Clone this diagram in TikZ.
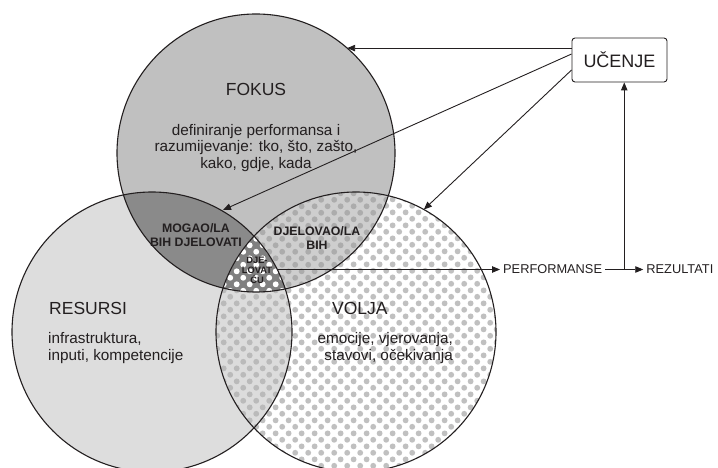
\documentclass[tikz,border=0pt]{standalone}
\usepackage{fontspec}
\setmainfont{Liberation Sans}
\usetikzlibrary{arrows.meta,positioning,patterns.meta}
\definecolor{linija}{RGB}{35,31,32}
\definecolor{sivaResursi}{RGB}{221,221,221}
\definecolor{sivaFokus}{RGB}{192,192,192}
\definecolor{sivaMogao}{RGB}{138,138,138}
\definecolor{sivaTrostruka}{RGB}{128,128,128}
\definecolor{tockaVolja}{RGB}{192,192,192}
\definecolor{sivaFokusVolja}{RGB}{206,206,206}
\definecolor{tockaFokusVolja}{RGB}{172,172,172}
\definecolor{sivaResursiVolja}{RGB}{220,220,220}
\definecolor{tockaResursiVolja}{RGB}{186,186,186}

% rastar tockica za krug VOLJA
\tikzdeclarepattern{
  name=rastar,
  type=uncolored,
  bottom left={(0pt,0pt)},
  top right={(13.4pt,13.4pt)},
  tile size={(13.4pt,13.4pt)},
  code={
    \fill (3.35pt,3.35pt) circle[radius=3.05pt];
    \fill (10.05pt,10.05pt) circle[radius=3.05pt];
  }
}

\begin{document}
\begin{tikzpicture}[
  x=1pt, y=-1pt,
  krug/.style={circle, inner sep=0pt, outer sep=0pt},
  obrub/.style={draw=linija, line width=1.1pt},
  tockice/.style 2 args={fill=#1, postaction={pattern=rastar, pattern color=#2}},
  naslov/.style={inner sep=0pt, text=linija, font=\fontsize{17.5}{21}\selectfont},
  opis/.style={inner sep=0pt, text=linija, font=\fontsize{15.3}{16.8}\selectfont},
  presjek/.style={inner sep=0pt, text=linija, align=center,
                  font=\bfseries\fontsize{12.3}{13.8}\selectfont},
  okvir/.style={draw=linija, line width=0.9pt, rounded corners=3pt,
                minimum width=95pt, minimum height=44pt, text=linija,
                font=\fontsize{18}{21}\selectfont},
  izlaz/.style={inner sep=3pt, text=linija, font=\fontsize{12.8}{15}\selectfont},
  strelica/.style={-{Triangle[length=8pt,width=6.5pt]}, line width=0.9pt, draw=linija}
]
  \useasboundingbox (0,0) rectangle (718,468);

  % tri kruga
  \node[krug, minimum size=278pt] (fokus) at (256,153) {};
  \node[krug, minimum size=280pt] (resursi) at (152,332) {};
  \node[krug, minimum size=280pt] (volja) at (356,332) {};

  \fill[sivaResursi] (resursi.center) circle[radius=140pt];
  \fill[sivaFokus] (fokus.center) circle[radius=139pt];
  \fill[tockice={white}{tockaVolja}] (volja.center) circle[radius=140pt];
  \begin{scope}
    \clip (fokus.center) circle[radius=139pt];
    \fill[sivaMogao] (resursi.center) circle[radius=140pt];
    \fill[tockice={sivaFokusVolja}{tockaFokusVolja}] (volja.center) circle[radius=140pt];
  \end{scope}
  \begin{scope}
    \clip (resursi.center) circle[radius=140pt];
    \fill[tockice={sivaResursiVolja}{tockaResursiVolja}] (volja.center) circle[radius=140pt];
    \clip (fokus.center) circle[radius=139pt];
    \fill[tockice={sivaTrostruka}{white}] (volja.center) circle[radius=140pt];
  \end{scope}
  \foreach \k/\r in {fokus/139, resursi/140, volja/140}
    \draw[obrub] (\k.center) circle[radius=\r pt];

  % tekstovi u krugovima
  \node[naslov] (fokusNaslov) at (256,89) {FOKUS};
  \node[opis, align=center] (fokusOpis) at (256,148)
    {definiranje performansa i\\ razumijevanje: tko, što, zašto,\\ kako, gdje, kada};
  \node[naslov, anchor=west] (resursiNaslov) at (49,308.5) {RESURSI};
  \node[opis, align=left, anchor=west] (resursiOpis) at (48,348)
    {infrastruktura,\\ inputi, kompetencije};
  \node[naslov, anchor=west] (voljaNaslov) at (332,308.5) {VOLJA};
  \node[opis, align=right, anchor=east] (voljaOpis) at (453,348)
    {emocije, vjerovanja,\\ stavovi, očekivanja};

  \node[presjek] (mogao) at (196,235) {MOGAO/LA\\ BIH DJELOVATI};
  \node[presjek] (djelovao) at (317,238) {DJELOVAO/LA\\ BIH};
  \node[presjek, font=\bfseries\fontsize{9.3}{10}\selectfont] (djelovatcu) at (257,270)
    {DJE-\\ LOVAT\\ ĆU};

  % ucenje i izlazi
  \node[okvir] (ucenje) at (619.5,60) {UČENJE};
  \node[izlaz, anchor=west] (performanse) at (500,269.5) {PERFORMANSE};
  \node[izlaz, right=38pt of performanse] (rezultati) {REZULTATI};
  \path (performanse.east) -- (rezultati.west) coordinate[pos=0.5] (racva);
  \coordinate (mogaoCilj) at (223,210);

  \draw[strelica] (ucenje.west |- fokus.49) -- (fokus.49);
  \draw[strelica] ([yshift=6pt]ucenje.west) -- (mogaoCilj);
  \draw[strelica] ([yshift=-10pt]ucenje.west) -- (volja.61);
  \draw[strelica] (resursi.26 |- performanse) -- (performanse);
  \draw[strelica] (performanse) -- (rezultati);
  \draw[strelica] (racva) -- (racva |- ucenje.south);
\end{tikzpicture}
\end{document}
